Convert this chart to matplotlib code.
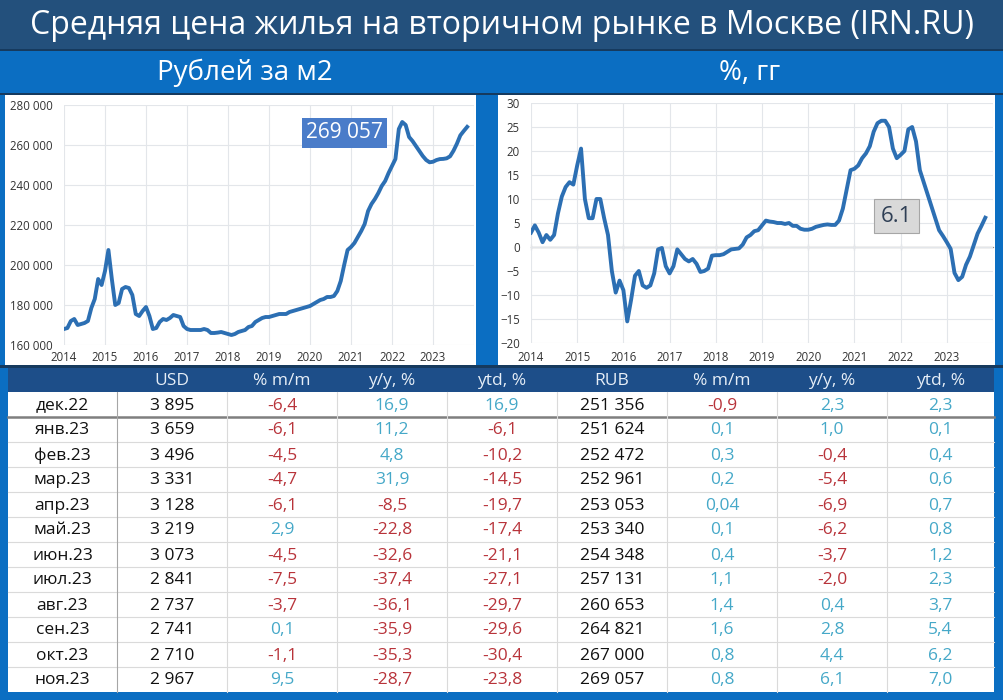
import numpy as np
import matplotlib
matplotlib.use("Agg")
import matplotlib.pyplot as plt
from matplotlib.patches import Rectangle
from matplotlib.ticker import FuncFormatter, MultipleLocator

plt.rcParams['font.family'] = ['Open Sans', 'DejaVu Sans']

W, H = 1004, 700

# --- chart data: monthly, Jan 2014 .. Nov 2023 ---
price = [
    # 2014
    168000, 168500, 172000, 173000, 170000, 170500, 171000, 172000, 178500, 183000, 193000, 190000,
    # 2015
    197000, 207500, 193000, 180000, 181000, 188000, 189000, 188500, 185000, 175500, 174500, 177000,
    # 2016
    179000, 174500, 168000, 168500, 171500, 173000, 172500, 173500, 175000, 174500, 174000, 169500,
    # 2017
    168000, 167500, 167500, 167500, 167500, 168000, 167500, 166000, 166000, 166200, 166500, 166000,
    # 2018
    165500, 165000, 165500, 166500, 167000, 167500, 169000, 169500, 171500, 172500, 173500, 174000,
    # 2019
    174000, 174500, 175000, 175500, 175500, 175500, 176500, 177000, 177500, 178000, 178500, 179000,
    # 2020
    179500, 180500, 181500, 182500, 183000, 184000, 184000, 184500, 187000, 192000, 200000, 207500,
    # 2021
    209000, 211000, 214000, 217000, 220500, 227000, 230500, 233000, 236000, 239500, 242000, 246000,
    # 2022
    249500, 253000, 268000, 271500, 270000, 264000, 262000, 259500, 257000, 254500, 252500, 251356,
    # 2023
    251624, 252472, 252961, 253053, 253340, 254348, 257131, 260653, 264821, 267000, 269057,
]

yoy = [
    # 2014
    3.0, 4.5, 3.0, 1.0, 2.5, 1.5, 2.5, 7.0, 10.5, 12.5, 13.5, 13.0,
    # 2015
    17.0, 20.5, 10.0, 6.0, 6.0, 10.0, 10.0, 6.0, 2.5, -5.0, -9.5, -7.0,
    # 2016
    -9.0, -15.5, -11.0, -6.0, -5.0, -8.0, -8.5, -8.0, -5.5, -0.5, -0.2, -4.0,
    # 2017
    -5.5, -4.0, -0.5, -1.5, -2.5, -3.0, -2.5, -3.5, -5.2, -5.0, -4.5, -1.8,
    # 2018
    -1.7, -1.7, -1.5, -1.0, -0.5, -0.4, -0.3, 0.5, 2.0, 2.5, 3.3, 3.5,
    # 2019
    4.5, 5.5, 5.3, 5.2, 5.0, 5.0, 4.8, 5.0, 4.4, 4.4, 3.8, 3.6,
    # 2020
    3.6, 3.8, 4.2, 4.4, 4.6, 4.7, 4.6, 4.6, 5.5, 8.0, 12.0, 16.0,
    # 2021
    16.3, 17.0, 18.5, 19.5, 21.0, 24.0, 25.8, 26.3, 26.3, 25.0, 20.5, 18.5,
    # 2022
    19.2, 20.0, 24.5, 25.0, 22.0, 16.0, 13.5, 11.0, 8.5, 6.0, 3.5, 2.3,
    # 2023
    1.0, -0.4, -5.4, -6.9, -6.2, -3.7, -2.0, 0.4, 2.8, 4.4, 6.1,
]

years = list(range(2014, 2024))

# --- table data ---
months = ["дек.22", "янв.23", "фев.23", "мар.23", "апр.23", "май.23",
          "июн.23", "июл.23", "авг.23", "сен.23", "окт.23", "ноя.23"]
usd = [3895, 3659, 3496, 3331, 3128, 3219, 3073, 2841, 2737, 2741, 2710, 2967]
usd_mm = [-6.4, -6.1, -4.5, -4.7, -6.1, 2.9, -4.5, -7.5, -3.7, 0.1, -1.1, 9.5]
usd_yy = [16.9, 11.2, 4.8, 31.9, -8.5, -22.8, -32.6, -37.4, -36.1, -35.9, -35.3, -28.7]
usd_ytd = [16.9, -6.1, -10.2, -14.5, -19.7, -17.4, -21.1, -27.1, -29.7, -29.6, -30.4, -23.8]
rub = [251356, 251624, 252472, 252961, 253053, 253340, 254348, 257131, 260653, 264821, 267000, 269057]
rub_mm = [-0.9, 0.1, 0.3, 0.2, 0.04, 0.1, 0.4, 1.1, 1.4, 1.6, 0.8, 0.8]
rub_yy = [2.3, 1.0, -0.4, -5.4, -6.9, -6.2, -3.7, -2.0, 0.4, 2.8, 4.4, 6.1]
rub_ytd = [2.3, 0.1, 0.4, 0.6, 0.7, 0.8, 1.2, 2.3, 3.7, 5.4, 6.2, 7.0]
headers = ["", "USD", "% m/m", "y/y, %", "ytd, %", "RUB", "% m/m", "y/y, %", "ytd, %"]

# colours
BLUE_BG = "#0B6EC2"
DARK = "#23507C"
HEAD = "#1D4E89"
LINE = "#2C6FB3"
RED = "#B8333A"
TEAL = "#45A8C8"


def fx(px):
    return px / W


def fy(py):
    return 1 - py / H


def rect(x0, y0, x1, y1, color):
    fig.patches.append(Rectangle((fx(x0), fy(y1)), fx(x1) - fx(x0), fy(y0) - fy(y1),
                                 transform=fig.transFigure, facecolor=color,
                                 edgecolor="none", zorder=-5))


def add_ax(x0, y0, x1, y1):
    a = fig.add_axes([fx(x0), fy(y1), fx(x1) - fx(x0), fy(y0) - fy(y1)])
    a.set_zorder(5)
    return a


def pct(v):
    s = f"{v:.1f}" if round(v, 1) == v else f"{v:.2f}"
    return s.replace(".", ",")


def thou(v):
    return f"{v:,}".replace(",", " ")


fig = plt.figure(figsize=(W / 100, H / 100), dpi=100, facecolor=BLUE_BG)

# header bands
rect(0, 0, W, 49, DARK)
rect(0, 49, W, 51, "#163A5E")
rect(0, 93, W, 95, "#163A5E")
fig.text(0.5, fy(25), "Средняя цена жилья на вторичном рынке в Москве (IRN.RU)",
         ha="center", va="center", color="white", fontsize=23)
fig.text(fx(245), fy(73), "Рублей за м2", ha="center", va="center", color="white", fontsize=20)
fig.text(fx(750), fy(73), "%, гг", ha="center", va="center", color="white", fontsize=20)

# chart panels
rect(5, 95, 476, 365, "white")
rect(498, 95, 995, 365, "white")

x = 2014 + np.arange(len(price)) / 12

# left chart: price
ax1 = add_ax(64, 105, 474, 345)
ax1.set_facecolor("none")
ax1.plot(x, price, color=LINE, lw=2.8, solid_joinstyle="round")
ax1.set_xlim(2014, 2024)
ax1.set_ylim(160000, 280000)
ax1.yaxis.set_major_locator(MultipleLocator(20000))
ax1.yaxis.set_major_formatter(FuncFormatter(lambda v, p: thou(int(v))))
ax1.set_xticks(years + [2024])
ax1.set_xticklabels([str(y) for y in years] + [""])
ax1.grid(True, color="#E3E6EA", lw=0.8)
ax1.tick_params(length=0, labelsize=8.3, colors="#333333", pad=8)
ax1.tick_params(axis="x", pad=4)
for s in ax1.spines.values():
    s.set_visible(False)
ax1.text(2020.85, 266000, thou(price[-1]), ha="center", va="center", color="white",
         fontsize=15, bbox=dict(boxstyle="square,pad=0.2", fc="#4A7CC9", ec="none"))

# right chart: y/y
ax2 = add_ax(531, 103, 993, 343)
ax2.set_facecolor("none")
ax2.plot(x, yoy, color=LINE, lw=2.8, solid_joinstyle="round", zorder=3)
ax2.set_xlim(2014, 2024)
ax2.set_ylim(-20, 30)
ax2.yaxis.set_major_locator(MultipleLocator(5))
ax2.set_xticks(years + [2024])
ax2.set_xticklabels([str(y) for y in years] + [""])
ax2.grid(True, color="#E3E6EA", lw=0.8)
ax2.tick_params(length=0, labelsize=8.3, colors="#333333", pad=8)
ax2.tick_params(axis="x", pad=6)
for s in ax2.spines.values():
    s.set_visible(False)
sec = ax2.secondary_xaxis(20 / 50)
sec.set_xticks(years)
sec.set_xticklabels([])
sec.tick_params(direction="inout", length=5, color="#8C8C8C", width=0.8)
sec.spines["bottom"].set_color("#8C8C8C")
sec.spines["bottom"].set_linewidth(0.9)
ax2.text(2021.91, 6.4, f"{yoy[-1]}", ha="center", va="center", color="#2F3F55",
         fontsize=16, bbox=dict(boxstyle="square,pad=0.3", fc="#D9D9D9", ec="#A6A6A6", lw=0.8))

# table
rect(0, 365, W, 368, "#163A5E")
cols = [8, 117, 227, 337, 447, 557, 667, 777, 887, 994]
rect(8, 368, 994, 392, HEAD)
rect(8, 392, 994, 692, "white")
for i, h in enumerate(headers):
    fig.text(fx((cols[i] + cols[i + 1]) / 2), fy(381), h, ha="center", va="center",
             color="#E6EEF7", fontsize=12.5)

row_top = 392
row_h = [25] * len(months)
tops = [row_top + sum(row_h[:i]) for i in range(len(months))]
for i in range(len(months)):
    y0 = tops[i]
    yc = y0 + row_h[i] / 2
    if i > 0:
        fig.add_artist(plt.Line2D([fx(8), fx(994)], [fy(y0), fy(y0)],
                                  color="#7F7F7F" if i == 1 else "#DADADA",
                                  lw=1.8 if i == 1 else 0.8))
    vals = [months[i], thou(usd[i]), usd_mm[i], usd_yy[i], usd_ytd[i],
            thou(rub[i]), rub_mm[i], rub_yy[i], rub_ytd[i]]
    for j, v in enumerate(vals):
        if isinstance(v, str):
            txt, col = v, "#111111"
        else:
            txt, col = pct(v), (RED if v < 0 else TEAL)
        fig.text(fx((cols[j] + cols[j + 1]) / 2), fy(yc + 1), txt, ha="center",
                 va="center", color=col, fontsize=12.5)

for c in cols[1:-1]:
    fig.add_artist(plt.Line2D([fx(c), fx(c)], [fy(392), fy(692)],
                              color="#A6A6A6" if c == 117 else "#DADADA", lw=0.8))

fig.savefig("out.png", dpi=100, facecolor=fig.get_facecolor())
